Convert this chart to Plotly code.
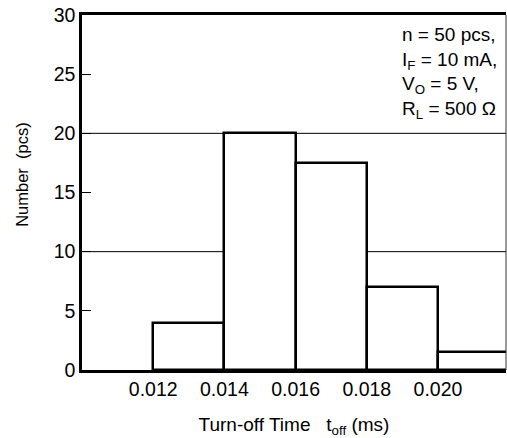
import plotly.graph_objects as go

bin_left = [0.012, 0.014, 0.016, 0.018, 0.020]
counts = [4, 20, 17.5, 7, 1.5]
bin_width = 0.002
x_ticks = [0.012, 0.014, 0.016, 0.018, 0.020]
x_ticktext = ["0.012", "0.014", "0.016", "0.018", "0.020"]
y_ticks = [0, 5, 10, 15, 20, 25, 30]
grid_levels = [10, 20]

FONT = "Arial, Liberation Sans, sans-serif"

centers = [b + bin_width / 2 for b in bin_left]

fig = go.Figure()
fig.add_trace(go.Bar(
    x=centers, y=counts, width=[bin_width] * len(counts),
    marker=dict(color="white", line=dict(color="black", width=2.5)),
    showlegend=False,
))

for g in grid_levels:
    fig.add_shape(type="line", xref="paper", yref="y", x0=0, x1=1, y0=g, y1=g,
                  line=dict(color="black", width=1), layer="below")
# thin right border
fig.add_shape(type="line", xref="paper", yref="paper", x0=1, x1=1, y0=0, y1=1,
              line=dict(color="#333", width=1), layer="above")

fig.add_annotation(
    x=0.01893, y=29.4, xref="x", yref="y", xanchor="left", yanchor="top",
    align="left", showarrow=False,
    text="n = 50 pcs,<br>I<sub>F</sub> = 10 mA,<br>V<sub>O</sub> = 5 V,<br>R<sub>L</sub> = 500 Ω",
    font=dict(family=FONT, size=19, color="black"),
)

# y-axis title (positioned as in reference, above centre)
fig.add_annotation(
    x=-0.142, y=0.552, xref="paper", yref="paper", xanchor="center", yanchor="middle",
    textangle=-90, showarrow=False,
    text="Number\u00a0\u00a0(pcs)", font=dict(family=FONT, size=16.5, color="black"),
)

fig.update_layout(
    width=507, height=438,
    margin=dict(l=82, r=1, t=15, b=68),
    plot_bgcolor="white", paper_bgcolor="white",
    font=dict(family=FONT, size=19.5, color="black"),
    bargap=0,
    xaxis=dict(
        range=[0.010, 0.02191], tickvals=x_ticks, ticktext=x_ticktext,
        ticks="", showgrid=False, zeroline=False,
        showline=True, linecolor="black", linewidth=2.5, mirror=True,
        title=dict(text="Turn-off Time\u00a0\u00a0\u00a0t<sub>off</sub> (ms)", standoff=20,
                   font=dict(size=19)),
    ),
    yaxis=dict(
        range=[0, 30], tickvals=y_ticks, ticks="inside", ticklen=9, tickwidth=1,
        tickcolor="black", showgrid=False, zeroline=False,
        showline=True, linecolor="black", linewidth=2.5,
    ),
)

fig.write_html("out.html", config={"displayModeBar": False},
               post_script="document.body.style.margin='0';document.body.style.overflow='hidden';")
